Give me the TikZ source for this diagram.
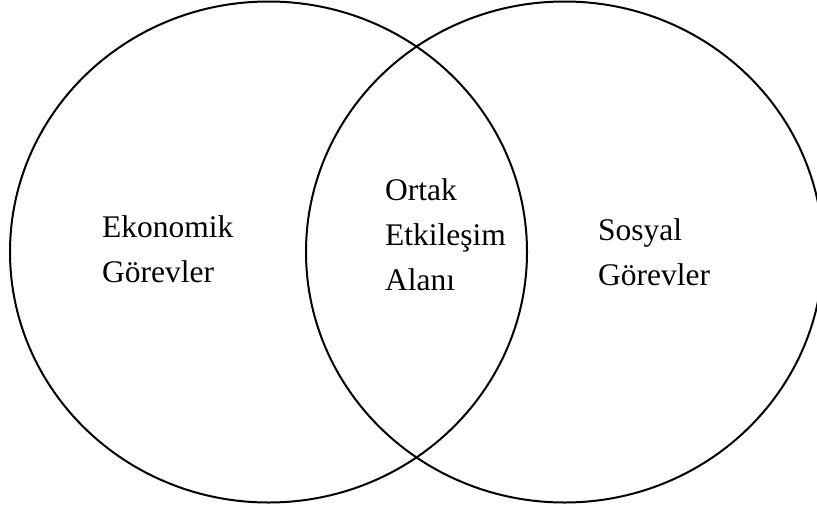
\documentclass[tikz,border=0pt]{standalone}
\usepackage{fontspec}
\setmainfont{Liberation Serif}
\begin{document}
\begin{tikzpicture}[x=1pt,y=-1pt,
  ring/.style={draw=black,line width=2pt},
  label/.style={anchor=base west,inner sep=0pt,align=left,
    font=\fontsize{31.5}{45}\selectfont}]
\useasboundingbox (0,0) rectangle (817,509);
\begin{scope}
  \clip (0,0) rectangle (817,509);
  % two overlapping areas
  \draw[ring] (268.5,252) ellipse [x radius=258.5,y radius=250.5];
  \draw[ring] (564.5,252) ellipse [x radius=258.5,y radius=250.5];
\end{scope}
% each node is placed by the baseline of its last line
\node[label] (eko) at (102,282) {Ekonomik\\Görevler};
\node[label] (ortak) at (385,290) {Ortak\\Etkileşim\\Alanı};
\node[label] (sos) at (598,285) {Sosyal\\Görevler};
\end{tikzpicture}
\end{document}
